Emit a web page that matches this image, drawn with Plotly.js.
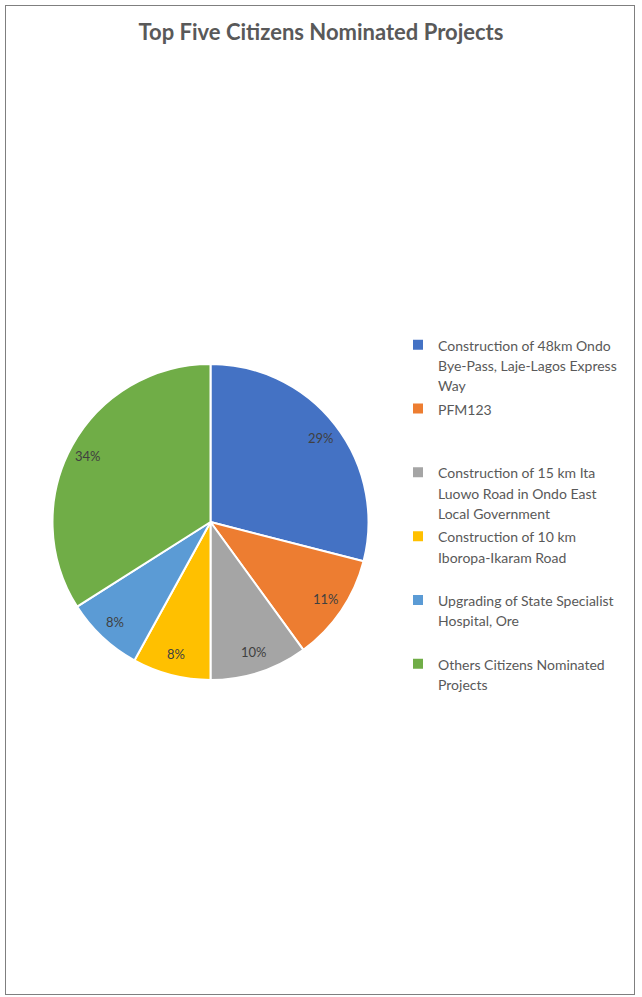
<!DOCTYPE html>
<html>
<head>
<meta charset="utf-8">
<script src="https://cdn.plot.ly/plotly-3.0.1.min.js"></script>
<style>
html,body{margin:0;padding:0;background:#fff;}
#frame{position:absolute;left:5px;top:5px;width:628px;height:988px;border:1px solid #7f7f7f;}
#chart{position:absolute;left:0;top:0;width:642px;height:997px;}
</style>
</head>
<body>
<div id="frame"></div>
<div id="chart"></div>
<script>
const categories = [
  "Construction of 48km Ondo<br>Bye-Pass, Laje-Lagos Express<br>Way",
  "PFM123<br> <br> ",
  "Construction of 15 km Ita<br>Luowo Road in Ondo East<br>Local Government",
  "Construction of 10 km<br>Iboropa-Ikaram Road<br> ",
  "Upgrading of State Specialist<br>Hospital, Ore<br> ",
  "Others Citizens Nominated<br>Projects<br> "
];
const values = [29, 11, 10, 8, 8, 34];
const colors = ["#4472C4", "#ED7D31", "#A5A5A5", "#FFC000", "#5B9BD5", "#70AD47"];

const W = 642, H = 997;
const cx = 210.5, cy = 522, R = 158;
const labelR = 0.875;
const FONT = "Lato, 'Open Sans', sans-serif";

// labels keep one line per row; inner span sets glyph size, outer legend font sets row spacing
const legendLabels = categories.map(c => c.split("<br>").map(s => "<span style='font-size:14px'>" + s + "</span>").join("<br>"));

const trace = {
  type: "pie",
  labels: legendLabels,
  values: values,
  sort: false,
  direction: "clockwise",
  rotation: 0,
  marker: {colors: colors, line: {color: "#ffffff", width: 2}},
  textinfo: "none",
  hoverinfo: "none",
  domain: {x: [(cx - R) / W, (cx + R) / W], y: [(H - cy - R) / H, (H - cy + R) / H]}
};

// percentage labels placed along each slice's bisector
const total = values.reduce((a, b) => a + b, 0);
let cum = 0;
const annotations = values.map(v => {
  const mid = (cum + v / 2) / total;
  cum += v;
  const ang = mid * 2 * Math.PI;
  const px = cx + labelR * 160 * Math.sin(ang);
  const py = cy - labelR * 156 * Math.cos(ang);
  return {
    x: px / W, y: 1 - py / H, xref: "paper", yref: "paper",
    text: Math.round(v / total * 100) + "%",
    showarrow: false, xanchor: "center", yanchor: "middle",
    font: {family: FONT, size: 13, color: "#404040"}
  };
});

const layout = {
  width: W, height: H,
  margin: {l: 0, r: 0, t: 0, b: 0},
  paper_bgcolor: "rgba(0,0,0,0)",
  plot_bgcolor: "rgba(0,0,0,0)",
  title: {
    text: "<b>Top Five Citizens Nominated Projects</b>",
    font: {family: FONT, size: 22, color: "#595959"},
    x: 0.5, xanchor: "center", y: 1 - 32 / H, yanchor: "middle", yref: "paper"
  },
  annotations: annotations,
  showlegend: true,
  legend: {
    x: 398 / W, xanchor: "left",
    y: 1 - 328 / H, yanchor: "top",
    valign: "top",
    font: {family: FONT, size: 15.6, color: "#595959"},
    bgcolor: "rgba(0,0,0,0)",
    traceorder: "normal"
  }
};

Plotly.newPlot("chart", [trace], layout, {displayModeBar: false, staticPlot: true});
</script>
</body>
</html>
